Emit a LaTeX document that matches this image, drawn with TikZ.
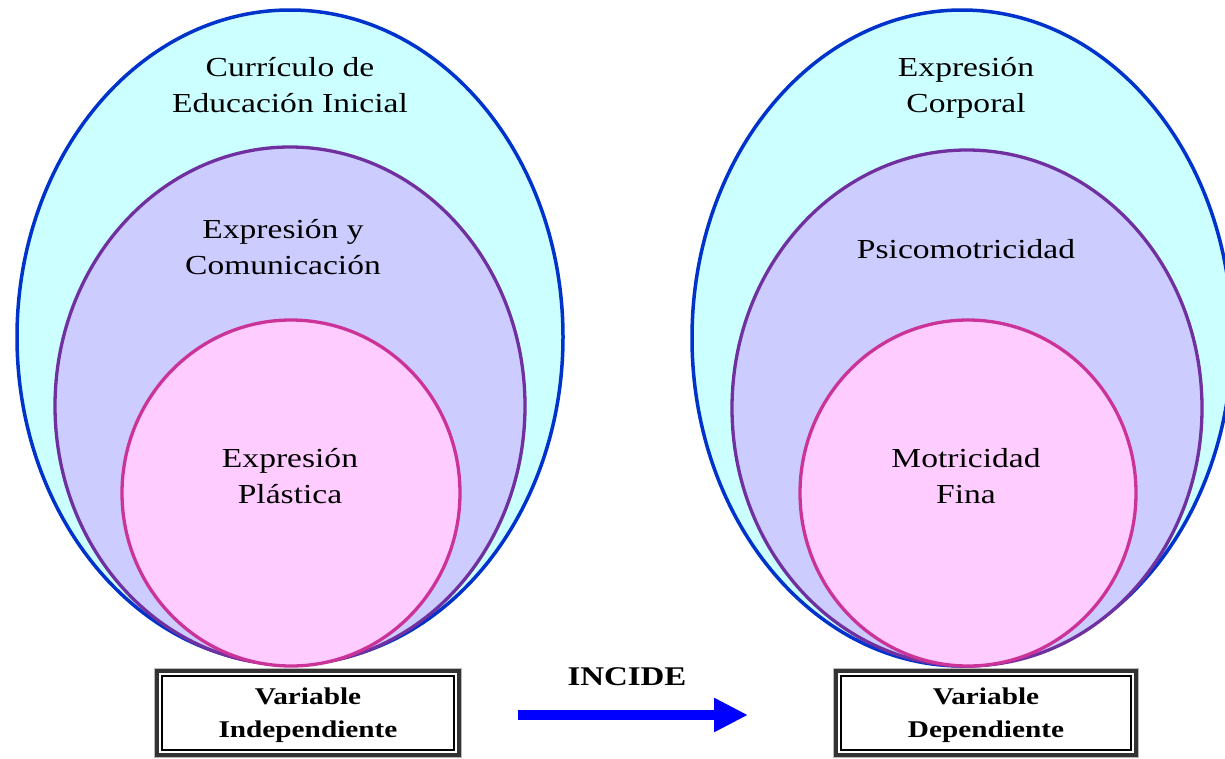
\documentclass[tikz,border=0pt]{standalone}
\usepackage{fontspec}
\setmainfont[FakeStretch=1.22]{Liberation Serif}
\usetikzlibrary{shapes.geometric,arrows.meta}
\definecolor{outerfill}{HTML}{CCFFFF}
\definecolor{outerline}{HTML}{0033CC}
\definecolor{midfill}{HTML}{CCCCFF}
\definecolor{midline}{HTML}{7030A0}
\definecolor{innerfill}{HTML}{FFCCFF}
\definecolor{innerline}{HTML}{CC3399}
\definecolor{arrowblue}{HTML}{0000FF}
\tikzset{
  outerell/.style={ellipse, draw=outerline, fill=outerfill, line width=3.5pt, inner sep=0pt},
  midell/.style={ellipse, draw=midline, fill=midfill, line width=3.3pt, inner sep=0pt},
  innerell/.style={ellipse, draw=innerline, fill=innerfill, line width=3.3pt, inner sep=0pt},
  lbl/.style={align=center, font=\fontsize{27.5}{36}\selectfont, inner sep=0pt},
  boxlbl/.style={align=center, font=\bfseries\fontsize{24}{33}\selectfont, inner sep=0pt},
  varbox/.style={draw=black!80, line width=4.5pt, minimum width=#1, minimum height=84pt, inner sep=0pt},
}
\begin{document}
\begin{tikzpicture}[x=1pt,y=-1pt]
\useasboundingbox (0,0) rectangle (1225,758);
\begin{scope}
\clip (0,0) rectangle (1225,758);
% left
\node[outerell, minimum width=546pt, minimum height=654pt] (lo) at (290,337) {};
\node[midell, minimum width=470pt, minimum height=518pt] (lm) at (290,406) {};
\node[innerell, minimum width=338pt, minimum height=346pt] (li) at (291,493) {};
% right
\node[outerell, minimum width=540pt, minimum height=656pt] (ro) at (962,338) {};
\node[midell, minimum width=470pt, minimum height=516pt] (rm) at (967,408) {};
\node[innerell, minimum width=336pt, minimum height=346pt] (ri) at (968,493) {};
\end{scope}
% labels
\node[lbl] (t1) at (290,85) {Currículo de\\Educación Inicial};
\node[lbl] (t2) at (283,247) {Expresión y\\Comunicación};
\node[lbl] (t3) at (290,476) {Expresión\\Plástica};
\node[lbl] (t4) at (966,88) {Expresión\\Corporal};
\node[lbl] (t5) at (966,249) {Psicomotricidad};
\node[lbl] (t6) at (966,476) {Motricidad\\Fina};
% boxes
\node[varbox=302pt] (bl) at (308,713) {};
\draw[gray!55, line width=1.4pt] (bl.south west) rectangle (bl.north east);
\draw[black, line width=1.6pt] ([shift={(7,-7)}]bl.south west) rectangle ([shift={(-7,7)}]bl.north east);
\node[boxlbl] (bt1) at (308,715) {Variable\\Independiente};
\node[varbox=300pt] (br) at (986,713) {};
\draw[gray!55, line width=1.4pt] (br.south west) rectangle (br.north east);
\draw[black, line width=1.6pt] ([shift={(7,-7)}]br.south west) rectangle ([shift={(-7,7)}]br.north east);
\node[boxlbl] (bt2) at (986,715) {Variable\\Dependiente};
% arrow
\coordinate (as) at (518,715);
\coordinate (ae) at (748,715);
\draw[arrowblue, line width=10pt, -{Triangle[length=34pt,width=32pt]}] (as) -- (ae);
\node[font=\bfseries\fontsize{27}{30}\selectfont, inner sep=0pt] (inc) at (627,677) {INCIDE};
\end{tikzpicture}
\end{document}
